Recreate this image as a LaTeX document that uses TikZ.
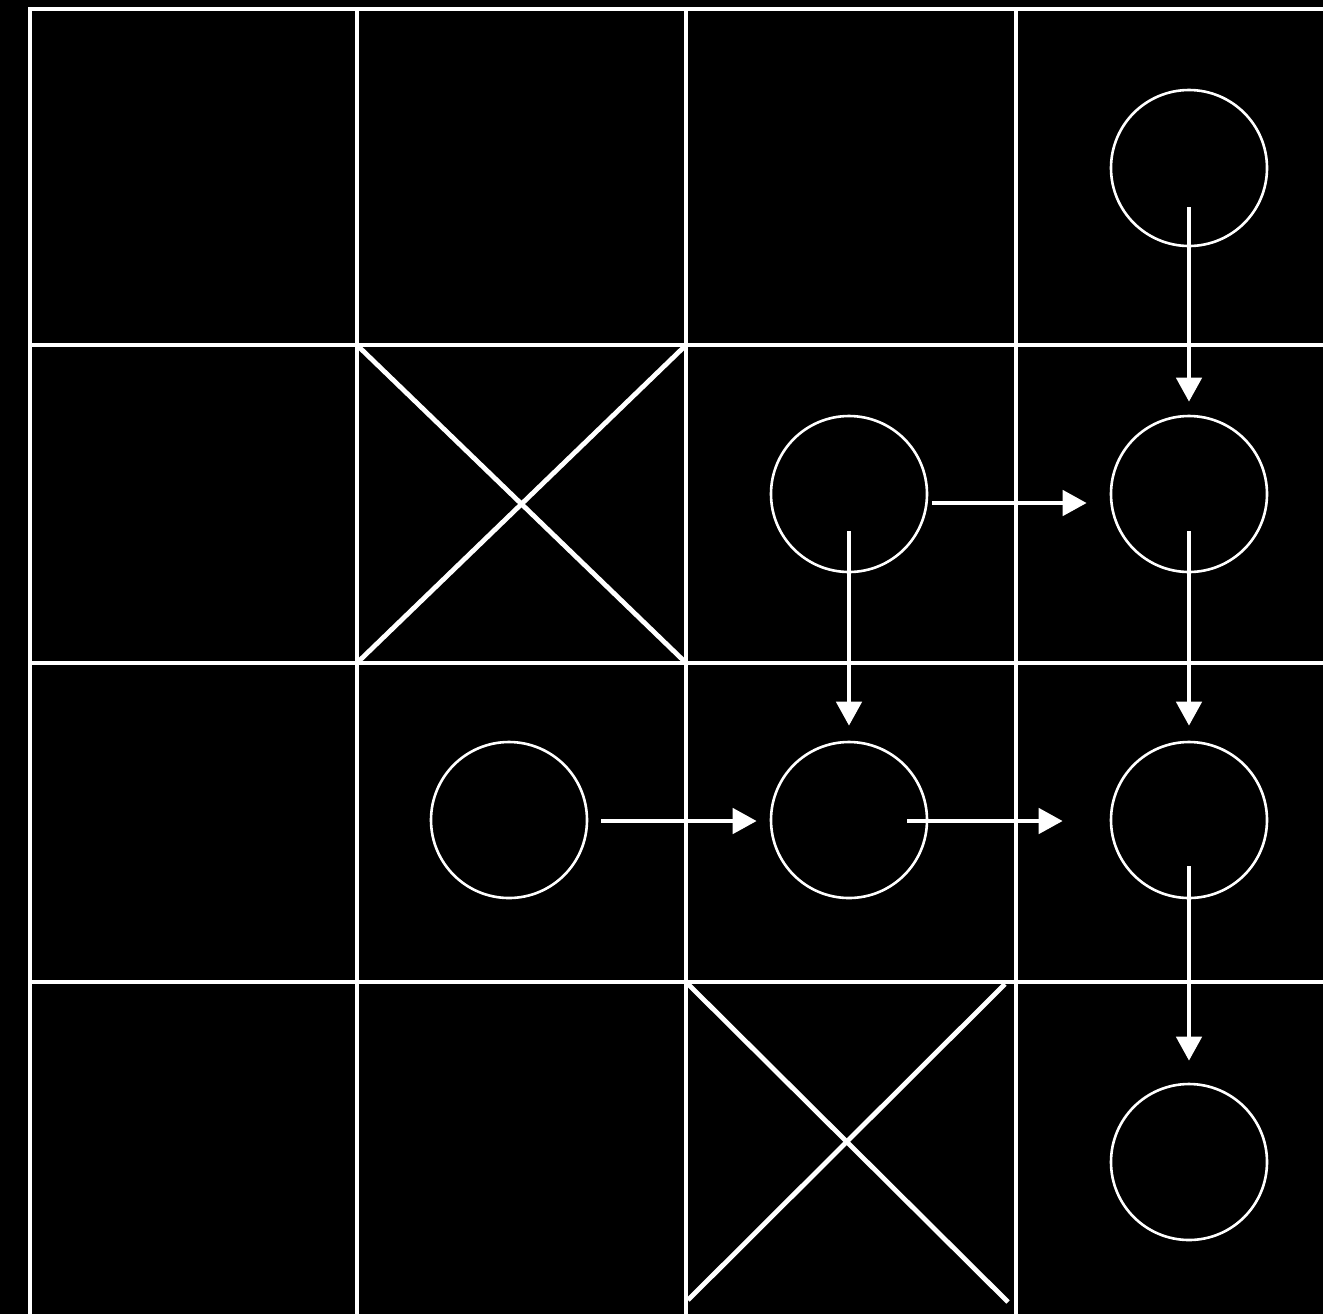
\documentclass[tikz,border=0pt]{standalone}
\usetikzlibrary{arrows.meta,calc}
\begin{document}
\begin{tikzpicture}[x=0.5pt,y=-0.5pt,
  gridline/.style={white,line width=2.4pt},
  crossline/.style={white,line width=2.4pt},
  state/.style={circle,draw=white,line width=1.3pt,minimum size=78pt,inner sep=0pt},
  arr/.style={white,line width=2.3pt,-{Triangle[length=12pt,width=12.5pt]}}]
\fill[black] (0,0) rectangle (1323,1314);
\useasboundingbox (0,0) rectangle (1323,1314);
\begin{scope}
\clip (0,0) rectangle (1323,1314);
% grid
\foreach \y in {9,345,663,982} \draw[gridline] (28,\y) -- (1330,\y);
\foreach \x in {30,357,686,1016} \draw[gridline] (\x,7) -- (\x,1320);
% crosses
\draw[crossline] (359,347) -- (684,661);
\draw[crossline] (359,661) -- (684,347);
\draw[crossline] (688,984) -- (1008,1302);
\draw[crossline] (688,1300) -- (1005,984);
\end{scope}
% states
\node[state] (a) at (1189,168) {};
\node[state] (b) at (849,494) {};
\node[state] (c) at (1189,494) {};
\node[state] (d) at (509,820) {};
\node[state] (e) at (849,820) {};
\node[state] (f) at (1189,820) {};
\node[state] (g) at (1189,1162) {};
% arrows
\draw[arr] ($(a.center)+(0,39)$) -- ($(c.north)+(0,-13)$);
\draw[arr] ($(b.east)+(4,9)$) -- ($(c.west)+(-23,9)$);
\draw[arr] ($(b.center)+(0,37)$) -- ($(e.north)+(0,-15)$);
\draw[arr] ($(c.center)+(0,37)$) -- ($(f.north)+(0,-15)$);
\draw[arr] ($(d.east)+(13,1)$) -- ($(e.west)+(-13,1)$);
\draw[arr] ($(e.center)+(58,1)$) -- ($(f.west)+(-47,1)$);
\draw[arr] ($(f.center)+(0,46)$) -- ($(g.north)+(0,-22)$);
\end{tikzpicture}
\end{document}
